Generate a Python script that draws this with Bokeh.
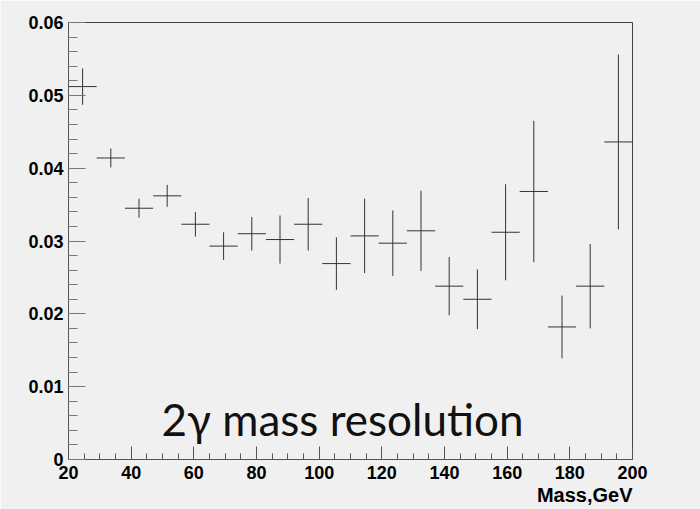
from bokeh.plotting import figure
from bokeh.models import Range1d, FixedTicker, PrintfTickFormatter, Title, ColumnDataSource
from bokeh.core.properties import value
from bokeh.embed import file_html
from bokeh.resources import INLINE

# Data
mass_centers = [24.5, 33.5, 42.5, 51.5, 60.5, 69.5, 78.5, 87.5, 96.5, 105.5,
                114.5, 123.5, 132.5, 141.5, 150.5, 159.5, 168.5, 177.5, 186.5, 195.5]
resolution = [0.0512, 0.0414, 0.0345, 0.0362, 0.0323, 0.0293, 0.0310, 0.0302, 0.0323, 0.0269,
              0.0307, 0.0297, 0.0314, 0.0238, 0.0220, 0.0312, 0.0368, 0.0182, 0.0238, 0.0436]
resolution_err = [0.0025, 0.0013, 0.0013, 0.0015, 0.0017, 0.0019, 0.0023, 0.0033, 0.0036, 0.0036,
                  0.0051, 0.0045, 0.0055, 0.0040, 0.0041, 0.0066, 0.0097, 0.0043, 0.0058, 0.0120]
bin_half_width = 4.5
x_ticks = [20, 40, 60, 80, 100, 120, 140, 160, 180, 200]
y_ticks = [0, 0.01, 0.02, 0.03, 0.04, 0.05, 0.06]

src = ColumnDataSource(dict(
    x=mass_centers,
    y=resolution,
    x0=[c - bin_half_width for c in mass_centers],
    x1=[c + bin_half_width for c in mass_centers],
    y0=[v - e for v, e in zip(resolution, resolution_err)],
    y1=[v + e for v, e in zip(resolution, resolution_err)],
))

BG = "#f0f0f0"
p = figure(width=700, height=509, output_backend="svg", toolbar_location=None,
           x_range=Range1d(20, 200), y_range=Range1d(0, 0.06),
           min_border_left=68, min_border_right=68, min_border_top=22, min_border_bottom=50)
p.background_fill_color = BG
p.border_fill_color = BG
p.outline_line_color = "#444444"
p.outline_line_width = 1
p.grid.visible = False

p.segment(x0="x0", y0="y", x1="x1", y1="y", source=src, line_color="#333333", line_width=1)
p.segment(x0="x", y0="y0", x1="x", y1="y1", source=src, line_color="#333333", line_width=1)

p.text(x=[49.7], y=[0.0055], text=["2\u03b3 mass resolution"], text_font=value("Lato"),
       text_font_size="44px", text_color="#111111", text_baseline="alphabetic", text_align="left")

# axes
xa = p.xaxis[0]
xa.ticker = FixedTicker(ticks=x_ticks, minor_ticks=list(range(20, 201, 5)))
xa.formatter = PrintfTickFormatter(format="%d")
xa.major_tick_in = 13
xa.major_tick_out = 0
xa.minor_tick_in = 6
xa.minor_tick_out = 0
xa.axis_line_color = "#555555"
xa.major_tick_line_color = "#555555"
xa.minor_tick_line_color = "#555555"
xa.major_label_text_font = "Liberation Sans"
xa.major_label_text_font_style = "bold"
xa.major_label_text_font_size = "18px"
xa.major_label_text_color = "#000000"
xa.major_label_standoff = 6

ya = p.yaxis[0]
ya.ticker = FixedTicker(ticks=y_ticks, minor_ticks=[i * 0.002 for i in range(31)])
ya.formatter = PrintfTickFormatter(format="%g")
ya.major_tick_in = 17
ya.major_tick_out = 0
ya.minor_tick_in = 9
ya.minor_tick_out = 0
ya.axis_line_color = "#555555"
ya.major_tick_line_color = "#777777"
ya.minor_tick_line_color = "#777777"
ya.major_label_text_font = "Liberation Sans"
ya.major_label_text_font_style = "bold"
ya.major_label_text_font_size = "18px"
ya.major_label_text_color = "#000000"
ya.major_label_standoff = 5

p.add_layout(Title(text="Mass,GeV", align="right", text_font="Liberation Sans",
                   text_font_style="bold", text_font_size="20px", text_color="#000000",
                   standoff=0), "below")

open("out.html", "w").write(file_html(p, INLINE))
